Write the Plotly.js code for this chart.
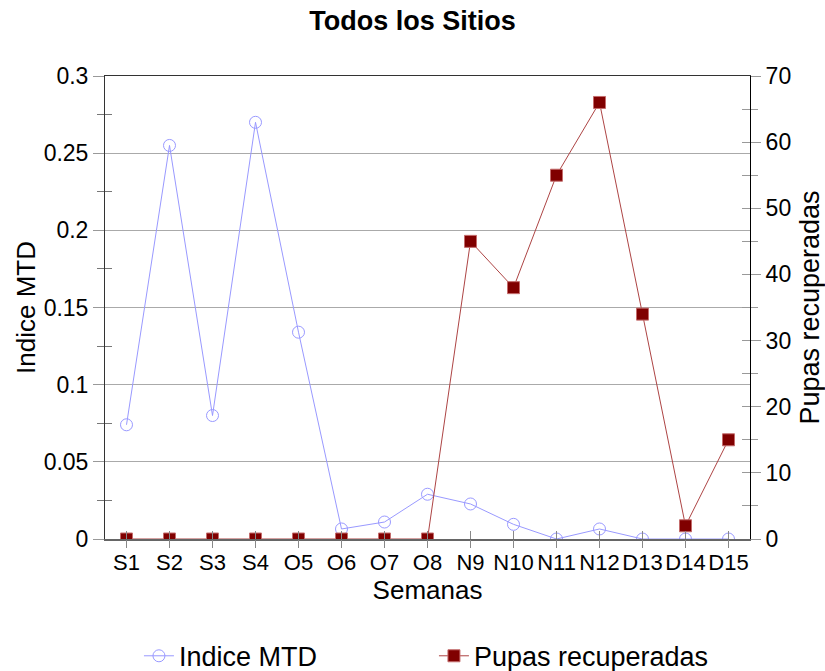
<!DOCTYPE html>
<html>
<head>
<meta charset="utf-8">
<script src="https://cdn.plot.ly/plotly-3.0.1.min.js"></script>
<style>html,body{margin:0;padding:0;background:#fff;}#chart{width:825px;height:671px;}</style>
</head>
<body>
<div id="chart"></div>
<script>
const semanas = ["S1","S2","S3","S4","O5","O6","O7","O8","N9","N10","N11","N12","D13","D14","D15"];
const indiceMTD = [0.074,0.255,0.080,0.270,0.134,0.0065,0.011,0.029,0.0227,0.0095,0,0.0065,0,0,0];
const pupasRecuperadas = [0,0,0,0,0,0,0,0,45,38,55,66,34,2,15];

const font = "Liberation Sans, Arial, sans-serif";
const traces = [
  {
    x: semanas, y: indiceMTD, name: "Indice MTD", type: "scatter", mode: "lines+markers",
    line: {color: "#9999ff", width: 1},
    marker: {symbol: "circle-open", size: 12, color: "#9999ff", line: {width: 1}},
    xaxis: "x", yaxis: "y"
  },
  {
    x: semanas, y: pupasRecuperadas, name: "Pupas recuperadas", type: "scatter", mode: "lines+markers",
    line: {color: "#ad4444", width: 1},
    marker: {symbol: "square", size: 12, color: "#800000", line: {color: "#c46c6c", width: 1}},
    xaxis: "x", yaxis: "y2"
  },
  {x: [], y: [], xaxis: "x3", yaxis: "y3", type: "scatter", showlegend: false, hoverinfo: "skip"},
  {x: [], y: [], xaxis: "x3", yaxis: "y4", type: "scatter", showlegend: false, hoverinfo: "skip"},
  {x: [], y: [], xaxis: "x2", yaxis: "y", type: "scatter", showlegend: false, hoverinfo: "skip"}
];
const layout = {
  width: 825, height: 671,
  margin: {l: 105, r: 75, t: 76, b: 132},
  paper_bgcolor: "#fff", plot_bgcolor: "#fff",
  font: {family: font, size: 23, color: "#000"},
  title: {text: "<b>Todos los Sitios</b>", font: {family: font, size: 27, color: "#000"}, x: 0.5, xanchor: "center", y: 0.97, yanchor: "middle"},
  showlegend: true,
  legend: {orientation: "h", xref: "container", yref: "container", x: 0.526, xanchor: "center", y: 0.022, yanchor: "middle", font: {size: 27}, entrywidth: 250, borderwidth: 0, bgcolor: "rgba(0,0,0,0)"},
  xaxis: {
    type: "category", range: [-0.5, 14.5], fixedrange: true, automargin: false,
    showline: true, linecolor: "#666", linewidth: 2, mirror: false,
    ticks: "inside", ticklen: 8, tickcolor: "#888", tickwidth: 1, tickangle: 0, ticklabelstandoff: 3,
    tickfont: {size: 22}, showgrid: false, zeroline: false,
    title: {text: "Semanas", font: {size: 26}, standoff: 6}
  },
  xaxis3: {
    overlaying: "x", range: [-0.5, 14.5], tickmode: "linear", tick0: 0, dtick: 1, automargin: false,
    ticks: "outside", ticklen: 8, tickcolor: "#888", tickwidth: 1, showticklabels: false,
    showgrid: false, zeroline: false, showline: false
  },
  xaxis2: {overlaying: "x", side: "top", showline: true, linecolor: "#333", linewidth: 1, showticklabels: false, ticks: "", range: [0, 1], showgrid: false, zeroline: false, automargin: false},
  yaxis: {
    range: [0, 0.3], dtick: 0.05, showline: true, linecolor: "#333", linewidth: 1, automargin: false,
    mirror: false, ticks: "outside", ticklen: 11, tickcolor: "#999", tickwidth: 1,
    showgrid: true, gridcolor: "#aaa", gridwidth: 1, zeroline: false,
    minor: {dtick: 0.025, ticks: "outside", ticklen: 7, tickcolor: "#777", showgrid: false},
    tickfont: {size: 23},
    title: {text: "Indice MTD", font: {size: 26}, standoff: 0}
  },
  yaxis3: {
    overlaying: "y", side: "left", range: [0, 0.3], tickmode: "linear", tick0: 0.025, dtick: 0.05, automargin: false,
    ticks: "inside", ticklen: 7, tickcolor: "#777", tickwidth: 1, showticklabels: false,
    showgrid: false, zeroline: false, showline: false
  },
  yaxis2: {
    range: [0, 70], dtick: 10, overlaying: "y", side: "right", showline: true, linecolor: "#000", linewidth: 1, automargin: false,
    ticks: "outside", ticklen: 10, tickcolor: "#999", tickwidth: 1, showgrid: false, zeroline: false,
    minor: {dtick: 5, ticks: "outside", ticklen: 7, tickcolor: "#999"},
    tickfont: {size: 23},
    title: {text: "Pupas recuperadas", font: {size: 27}, standoff: 11}
  },
  yaxis4: {
    overlaying: "y", side: "right", range: [0, 70], tickmode: "linear", tick0: 0, dtick: 5, automargin: false,
    ticks: "inside", ticklen: 8, tickcolor: "#999", tickwidth: 1, showticklabels: false,
    showgrid: false, zeroline: false, showline: false
  }
};
Plotly.newPlot("chart", traces, layout, {displayModeBar: false, staticPlot: true});
</script>
</body>
</html>
